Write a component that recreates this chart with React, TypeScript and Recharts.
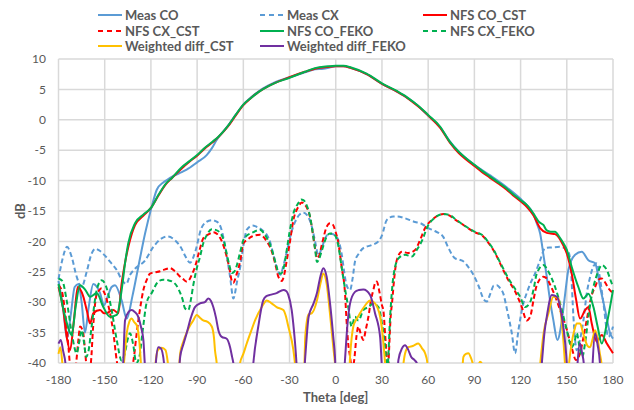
import { CartesianGrid, Line, LineChart, XAxis, YAxis } from "recharts";

type Pt = [number, number];

const thetaTicks = [-180, -150, -120, -90, -60, -30, 0, 30, 60, 90, 120, 150, 180];
const dbTicks = [-40, -35, -30, -25, -20, -15, -10, -5, 0, 5, 10];

// theta [deg], dB
const measCo: Pt[] = [
  [-180, -26.5], [-177, -31], [-174.5, -36], [-172, -32], [-169.5, -27.5], [-167, -27], [-165, -30],
  [-162.8, -35], [-160.5, -31], [-157.4, -27], [-155, -27.5], [-153, -28.5], [-150.5, -30.5], [-148, -29],
  [-145.5, -27.5], [-143.3, -27.2], [-139, -29.7], [-135.7, -32.7], [-132, -29], [-128.2, -24.2],
  [-123.8, -18.7], [-119.5, -14.3], [-116.2, -11.5], [-112, -10.3], [-109.7, -9.9], [-105, -9.2],
  [-100, -8.6], [-96.8, -8.2], [-90, -7.0], [-83.8, -5.8], [-80.5, -4.7], [-77.3, -3.3], [-70, -1],
  [-65, 0.8], [-60, 2.5], [-55, 3.7], [-50, 4.7], [-44, 5.6], [-40, 6.1], [-30, 7.0], [-20, 7.8],
  [-13.5, 8.3], [-8, 8.4], [-4, 8.6], [0, 8.8], [5, 8.8], [10, 8.5], [20, 7.5], [30, 5.9], [40, 4.6],
  [50, 3.0], [60, 0.7], [67.7, -1.2], [74, -3.5], [80, -5.3], [90, -7.4], [100, -9.1], [111, -11.1],
  [120, -13.0], [124, -14], [128, -15.3], [130.5, -17], [132.7, -18.7], [135, -22.5], [137, -25.8],
  [139, -29.5], [141.3, -33], [143.9, -36.2], [146.8, -33], [149, -28.5], [151, -24.7], [155.4, -22.2],
  [159.7, -21.7], [164, -23.1], [168.4, -23.6], [171.6, -27.5], [174.9, -31.3], [178.1, -35.1], [180, -36],
];

const measCx: Pt[] = [
  [-180, -26.2], [-177, -22.5], [-174.5, -20.9], [-171.5, -22.5], [-168.2, -25.8], [-165, -27.5],
  [-161.7, -25], [-158.5, -22], [-156, -21.2], [-153.5, -21.5], [-150, -22.3], [-146, -23.5],
  [-142.2, -24.7], [-138.5, -26.5], [-136, -27], [-133.5, -25.5], [-130.3, -24.5], [-124, -23.2],
  [-118.4, -20.9], [-113, -19.5], [-109, -19.2], [-104.4, -19.8], [-100.5, -21], [-97.9, -22.3],
  [-94.6, -23.5], [-91, -21.5], [-87.5, -18], [-84, -16.8], [-80.5, -16.5], [-77, -16.8], [-74.5, -17.8],
  [-71, -22], [-68.5, -26], [-66.5, -29.4], [-64, -26.5], [-62, -24.2], [-59.5, -20], [-57.8, -18.1],
  [-54, -17.4], [-51.3, -17.6], [-47.5, -18.2], [-44.8, -18.9], [-42.5, -20.2], [-40.5, -22.2],
  [-38, -24.5], [-36, -25.5], [-34, -24], [-31.8, -21.7], [-28.8, -18.5], [-26.4, -16.8], [-23.5, -15.6],
  [-21, -15.3], [-18.5, -15.7], [-15.5, -17.6], [-13.4, -20], [-11.3, -22.3], [-9, -21], [-6.5, -19.3],
  [-4.8, -18.8], [-2.5, -18.8], [0, -19.1], [2, -20], [3.8, -22], [5.5, -25], [7, -27.2], [9.3, -28],
  [11, -26], [12.5, -23.3], [15, -22], [17.9, -21.1], [23.4, -20.6], [27.7, -20], [30, -19], [33.1, -16.5],
  [37.4, -15.9], [40, -15.9], [45, -16.2], [51.5, -16.8], [55, -17], [60.1, -17.8], [63.5, -18.2],
  [66, -18.5], [69.9, -19.3], [73, -21], [77.5, -22.8], [80, -23], [83, -23.3], [86, -24.2], [89.4, -25.5],
  [93, -27.5], [96, -29.5], [98, -29.9], [100.5, -28.5], [102.5, -27.3], [104.6, -27.2], [107, -27.8],
  [108.8, -28.6], [111, -31], [114.3, -35.1], [116.4, -38.4], [118.6, -34.6], [121.8, -30.2], [124, -28.5],
  [126.2, -27], [129, -25.5], [132.7, -23.1], [135.9, -21.1], [140, -21], [145.6, -20.9], [148.5, -21.1],
  [151.5, -22], [152.8, -25], [154.3, -32.4], [156.5, -37.9], [158.7, -36], [160.8, -33], [163, -28.5],
  [165.2, -25.8], [167.5, -24], [169.5, -23.6], [171.5, -26], [173.8, -30.2], [177, -35.7], [180, -34],
];

const nfsCoCst: Pt[] = [
  [-180, -27.5], [-177, -31], [-174.5, -36], [-172.5, -37.9], [-170, -33], [-167.5, -27.5], [-164, -29],
  [-161.5, -31.5], [-159.5, -33.5], [-157.4, -31.8], [-153, -31.3], [-150.5, -31.8], [-148.7, -31.8],
  [-146.5, -31.5], [-144.4, -31.3], [-141.2, -31.8], [-139, -26.9], [-136.8, -23.5], [-134.5, -20.7],
  [-130.3, -17.3], [-125, -15.8], [-120, -14.5], [-115, -12.4], [-110, -10.5], [-106.5, -9.6], [-100, -8.0],
  [-95, -6.9], [-90, -5.9], [-85, -4.7], [-80, -3.7], [-76, -2.8], [-70, -1.1], [-65, 0.7], [-60, 2.4],
  [-55, 3.6], [-50, 4.6], [-44, 5.5], [-40, 6.0], [-30, 7.0], [-20, 7.9], [-13.5, 8.4], [-5, 8.7], [0, 8.8],
  [5, 8.8], [10, 8.5], [20, 7.5], [30, 5.9], [40, 4.6], [44, 4.0], [50, 2.9], [55, 1.9], [60, 0.7],
  [67.7, -1.3], [74, -3.7], [80, -5.5], [85, -6.6], [90, -7.6], [95, -8.6], [100, -9.5], [105, -10.4],
  [111, -11.5], [115, -12.4], [120, -13.4], [124, -14.3], [128.3, -15.7], [132.7, -17.8], [137, -18.6],
  [139.5, -18.7], [142.4, -18.8], [147.8, -20.7], [150, -22], [153.2, -25.3], [156, -29.5], [158.6, -32.7],
  [161.9, -31.3], [164, -30.8], [166.2, -33.5], [169.5, -36.5], [172.7, -35.4], [176, -36.8], [180, -38.4],
];

const nfsCxCst: Pt[] = [
  [-180, -27.2], [-178, -28], [-176, -31], [-174, -36], [-172, -42], [-170.5, -45], [-168.5, -40],
  [-167, -36], [-166, -34], [-164, -35], [-162.8, -37.9], [-161, -42], [-159, -40], [-157.5, -34],
  [-155.5, -29], [-153.5, -28], [-152, -27.7], [-150.5, -28.3], [-147.7, -30.5], [-144.4, -35],
  [-142.2, -39.6], [-140.5, -42], [-138, -44], [-134, -43], [-131, -39], [-129.2, -35], [-127, -31],
  [-124.9, -28], [-122.5, -26.2], [-120.6, -25.3], [-117.3, -25.1], [-114, -24.9], [-110.8, -24.6],
  [-107.6, -24.4], [-104.4, -24.9], [-101, -25.8], [-99, -26.2], [-97, -26.6], [-95.7, -26.5],
  [-93.5, -25.5], [-91.4, -24.2], [-88.5, -21.5], [-86, -19.5], [-83.8, -19], [-81.6, -18.7],
  [-79.5, -18.5], [-77, -18.8], [-75.1, -19.4], [-72.5, -21], [-70.8, -22.5], [-69, -24.5], [-67.5, -26.5],
  [-66.5, -26.8], [-64.5, -25.5], [-62.1, -23.3], [-60, -20.3], [-57.8, -19.8], [-54.5, -19.2],
  [-49.2, -18.9], [-46.8, -19.3], [-44.8, -20], [-42.5, -21], [-40.5, -22.5], [-38.8, -24.2],
  [-37.3, -25.8], [-35, -26.5], [-33.5, -25.5], [-31.8, -23.1], [-30, -20.5], [-27.5, -16.5],
  [-24.3, -14.3], [-22, -13.6], [-20.3, -13.9], [-18.5, -14.6], [-16.7, -16], [-15, -18.5], [-13.4, -21.2],
  [-12, -22.8], [-11, -22.5], [-9, -20.5], [-5.9, -17.6], [-3.7, -17], [-2, -17.2], [0, -18.5], [1.5, -20],
  [3.8, -24.2], [6, -28.5], [7, -33], [8.1, -36.8], [9.3, -39], [10.5, -41], [12, -39.5], [13.5, -35.5],
  [14.7, -34], [16, -35], [17.9, -36.2], [19.5, -34.5], [21.2, -32.4], [23, -29.5], [24.4, -28],
  [25.5, -26.9], [26.6, -26.6], [28.5, -28.5], [30, -30.5], [30.9, -31.3], [32.1, -35.5], [33.1, -39],
  [33.8, -42], [34.6, -38], [35.5, -33], [36.7, -29.7], [38, -26], [39.6, -23.1], [42.9, -21.7],
  [47.1, -21.9], [51.5, -21.4], [54.7, -19.8], [58, -17.8], [62.3, -16.5], [66, -15.8], [69.9, -15.5],
  [74.2, -15.8], [78, -16.5], [82.9, -17.3], [89.4, -18.4], [95.8, -19.2], [99, -20.2], [102.3, -21.4],
  [105, -22.7], [107.8, -24.2], [112.1, -26.4], [116.4, -28.2], [120.8, -30.8], [124, -33], [126.2, -32.4],
  [128.5, -29.5], [130.5, -27.2], [134.8, -25.8], [137, -26.1], [139, -27], [141.3, -28.3], [145.7, -31.3],
  [150, -34.5], [153.2, -37.5], [156, -39.5], [158.5, -38.5], [161, -35.5], [164, -31.5], [166, -29],
  [168.4, -27.5], [170.5, -26.3], [172.7, -26.1], [175, -26.8], [177, -27.7], [180, -28.5],
];

const nfsCoFeko: Pt[] = [
  [-180, -27], [-177, -31], [-174.5, -33.5], [-171.4, -35.4], [-169, -31], [-166, -27.2], [-162.5, -28],
  [-159.5, -29.1], [-155.2, -28.5], [-150.9, -30.8], [-146.6, -32.4], [-142.2, -32.1], [-139, -28],
  [-136.8, -23.6], [-134.7, -20.3], [-130.3, -17], [-125, -15.6], [-120, -14.5], [-115, -12.3],
  [-110, -10.4], [-106.5, -9.6], [-100, -7.8], [-95, -6.8], [-90, -5.8], [-85, -4.6], [-80, -3.6],
  [-76, -2.75], [-70, -1], [-65, 0.8], [-60, 2.5], [-55, 3.6], [-50, 4.6], [-44, 5.5], [-40, 6.0],
  [-30, 6.9], [-20, 7.9], [-13.5, 8.5], [-5, 8.8], [0, 8.9], [5, 8.9], [10, 8.6], [20, 7.6], [30, 6.0],
  [40, 4.7], [44, 4.1], [50, 3.0], [55, 2.0], [60, 0.8], [67.7, -1.1], [74, -3.6], [80, -5.3], [85, -6.4],
  [90, -7.4], [95, -8.4], [100, -9.3], [105, -10.2], [111, -11.3], [115, -12.2], [120, -13.2], [124, -14],
  [128.3, -15.4], [132, -16.8], [134.8, -17.3], [137, -18.2], [139.5, -18.4], [142.4, -18.4], [145, -19.2],
  [147.8, -20.3], [150, -21.4], [153.2, -24.2], [157.5, -27.5], [160.8, -29.4], [164, -28.6],
  [167.3, -30.8], [170, -34], [172.7, -36.8], [176, -33.5], [180, -28],
];

const nfsCxFeko: Pt[] = [
  [-180, -26.1], [-177.5, -26.5], [-174.7, -29.7], [-171.4, -35.1], [-168.2, -38.4], [-166.5, -36.5],
  [-165, -34.6], [-163.5, -36.5], [-162, -39], [-160.5, -38], [-158.5, -34], [-155.2, -28], [-152, -26.4],
  [-148.7, -27.7], [-145.5, -31.3], [-142.2, -36.2], [-139, -39.6], [-137, -38.5], [-135, -36],
  [-133.6, -35.1], [-131.5, -37], [-129.5, -40], [-127.5, -39], [-125.5, -35], [-122.7, -30],
  [-119.5, -28.5], [-115.2, -26.6], [-112, -26.3], [-108.7, -26.4], [-105, -26.8], [-102.2, -27.8],
  [-99.5, -29.5], [-97.9, -31], [-95.7, -31.3], [-94, -29.5], [-92.5, -27.2], [-90.3, -24.5], [-88.1, -22.5],
  [-86, -20.3], [-83.8, -19], [-80.5, -18], [-78, -18.1], [-75.1, -18.6], [-72.5, -20], [-70.8, -22],
  [-69, -24], [-67.5, -25.2], [-66, -25], [-64.3, -24], [-62, -21.7], [-60, -19.8], [-57.5, -19],
  [-54.5, -18.6], [-49.2, -18.1], [-46.8, -18.6], [-44.8, -19.4], [-42.5, -20.6], [-40.5, -22.2],
  [-38.8, -23.8], [-37.3, -25], [-35.5, -25.3], [-33.5, -24], [-31.8, -21.4], [-30, -18.5], [-27.5, -15.4],
  [-24.3, -13.7], [-22.5, -13.1], [-21, -13.2], [-19, -14], [-16.7, -15.9], [-15, -18.5], [-13.4, -21.3],
  [-12.2, -23.4], [-11, -23], [-9, -21.5], [-5.9, -19.2], [-3.7, -18.7], [-2, -18.7], [-0.5, -19],
  [1.5, -20.5], [3.8, -24.2], [5.5, -27], [8.1, -30.8], [10.3, -34], [12.5, -32.4], [14.7, -33],
  [17.9, -31.3], [21.2, -30.8], [24.4, -30.2], [27.7, -30.8], [30, -33.5], [32.1, -37.4], [33.5, -41],
  [35.3, -32.4], [37.4, -25.8], [40.7, -22.8], [45, -22.2], [49.4, -22.5], [52.6, -21.4], [55.8, -20],
  [60.1, -17.3], [63, -16.4], [66, -15.8], [69.9, -15.5], [74.2, -15.7], [78, -16.4], [82.9, -17.3],
  [89.4, -18.3], [95.8, -19.1], [99, -20.1], [102.3, -21.3], [105, -22.6], [107.8, -24], [112.1, -26.1],
  [116.4, -27.8], [119.7, -29.1], [122.9, -30.8], [126.2, -30], [128.5, -27.8], [130.5, -25.3],
  [134.8, -23.9], [138.1, -25], [142.4, -27.5], [146.8, -31.3], [150, -34.6], [153.2, -37.4], [155, -36.5],
  [156.5, -35.1], [158, -37], [160, -39], [162, -36.5], [164.5, -31.5], [167.3, -27.5], [170, -25.2],
  [172.7, -23.9], [176, -24.7], [179.2, -26.9], [180, -27.3],
];

const diffCst: Pt[] = [
  [-180, -38.5], [-178.8, -37.4], [-177.5, -40], [-176, -45], [-140, -45], [-137.5, -40], [-135.7, -35.1],
  [-134, -33.2], [-132.5, -32.7], [-130.8, -33.3], [-129.2, -33.8], [-127.5, -36.5], [-126.5, -40],
  [-125, -45], [-118.5, -45], [-117, -40], [-115.5, -37.9], [-113, -37.5], [-110.5, -37.9], [-109, -40],
  [-107, -45], [-103, -45], [-101, -38.4], [-99, -36.5], [-96.8, -35], [-94.5, -33.8], [-92.5, -33],
  [-90.3, -32.1], [-88, -32.6], [-86, -33], [-83.5, -33.2], [-80.5, -34], [-79, -36], [-78.4, -37.9],
  [-77.3, -40], [-76, -45], [-64, -45], [-62.1, -40], [-60, -38.5], [-57.8, -36.8], [-55, -34.8],
  [-52.4, -33], [-48, -30.8], [-44.8, -29.7], [-41.6, -30.2], [-38.4, -30.8], [-34, -31.3], [-32.5, -32.2],
  [-30.8, -34], [-27.5, -37.9], [-26.5, -40], [-25, -45], [-21.5, -45], [-20.3, -40], [-19.8, -35.7],
  [-17.6, -32], [-15.5, -31.8], [-12.2, -29.7], [-10, -27], [-8.1, -25.3], [-5.9, -27], [-3.7, -32],
  [-1.6, -37.4], [-0.5, -40], [1, -45], [8, -45], [9.3, -39], [11.4, -34], [13.5, -32.8], [15.8, -31.8],
  [20.1, -30.2], [22.3, -29.7], [25.5, -30.2], [28.8, -32.4], [31, -36.8], [32, -40], [33.5, -45],
  [42.5, -45], [44, -40], [45.5, -38], [47.1, -37.4], [50, -37.2], [53.6, -36.8], [56, -37.6], [58, -38.4],
  [59.5, -40], [61, -45], [81, -45], [82.9, -39], [84.5, -38.5], [86.1, -38.4], [88, -39.3], [89.5, -40.5],
  [91.5, -41], [93.7, -39.8], [95.5, -40.5], [97, -45], [131, -45], [132.8, -40], [135, -35],
  [138.1, -31.8], [141.3, -29.1], [144.6, -29.4], [146.8, -33.5], [148, -37], [148.8, -40], [150, -45],
  [151.5, -40], [153, -37], [155, -34.5], [156.5, -33.5], [158.6, -33.5], [160.5, -35], [161.9, -36.2],
  [163.5, -37.2], [165.1, -37.4], [166.8, -36], [168.4, -34.6], [170, -36], [171.5, -38.5], [172.5, -40],
  [174, -45], [180, -45],
];

const diffFeko: Pt[] = [
  [-180, -36.8], [-178.5, -36.2], [-177, -38], [-175.5, -40], [-174, -45], [-140, -45], [-138, -40],
  [-136.8, -33], [-134.5, -31.6], [-132.5, -31.3], [-130.5, -31.6], [-128.2, -32.4], [-126.5, -34],
  [-124.9, -36.2], [-124, -40], [-122.5, -45], [-118, -45], [-116.8, -40], [-115.2, -37.4], [-113.5, -37.6],
  [-111.5, -40], [-110, -45], [-103, -45], [-101, -39], [-99, -37], [-96.8, -35.1], [-94, -32.5],
  [-91.4, -30.8], [-88.1, -30.2], [-85, -30], [-82.7, -29.4], [-81, -29.8], [-79.5, -30.8], [-77.8, -32.5],
  [-76.2, -34.6], [-74, -35.7], [-70.8, -36], [-68.6, -37.4], [-67.3, -39], [-66.5, -40], [-65, -45],
  [-55, -45], [-53.5, -40], [-50.3, -34], [-47.1, -29.7], [-45, -29], [-42.7, -28.8], [-38.4, -28.5],
  [-34, -28], [-32, -28.2], [-30.8, -28.8], [-28.6, -31.3], [-27.2, -34.5], [-26.4, -36.8], [-25.5, -40],
  [-24.5, -45], [-21.5, -45], [-19.8, -39], [-17.6, -32.4], [-14.4, -30.2], [-12.2, -28.5], [-10, -25.8],
  [-8.1, -24.4], [-5.9, -25.8], [-3.7, -30.2], [-1.6, -35.7], [-0.5, -39], [0.5, -45], [4.5, -45],
  [6, -39.5], [7.5, -34], [9.3, -30.2], [12.5, -28.3], [15, -28], [17.9, -27.9], [22.3, -28.8],
  [25.5, -31.8], [28.8, -35.7], [29.8, -40], [31, -45], [39, -45], [40.7, -39.5], [43, -37.6], [45, -37.1],
  [47, -37.8], [49, -39], [51, -39.5], [52.6, -40], [54, -45], [132, -45], [133.8, -40], [135.5, -35],
  [137, -32.4], [140.3, -28.8], [143.5, -29.1], [146.8, -32.4], [149, -36.8], [150, -40], [151, -45],
  [156, -45], [157, -40], [158.6, -36.8], [160, -38.5], [161, -40], [162, -45], [166, -45], [166.8, -40],
  [168.4, -35.1], [170, -37], [171.5, -40], [172.5, -45], [180, -45],
];

const series = [
  { name: "Meas CO", pts: measCo, color: "#5b9bd5", dashed: false },
  { name: "Meas CX", pts: measCx, color: "#5b9bd5", dashed: true },
  { name: "NFS CO_CST", pts: nfsCoCst, color: "#ff0000", dashed: false },
  { name: "NFS CX_CST", pts: nfsCxCst, color: "#ff0000", dashed: true },
  { name: "NFS CO_FEKO", pts: nfsCoFeko, color: "#00b050", dashed: false },
  { name: "NFS CX_FEKO", pts: nfsCxFeko, color: "#00b050", dashed: true },
  { name: "Weighted diff_CST", pts: diffCst, color: "#ffc000", dashed: false },
  { name: "Weighted diff_FEKO", pts: diffFeko, color: "#7030a0", dashed: false },
];

const FONT = "Lato, 'Open Sans', sans-serif";
const legendCols = [98, 260, 423];
const legendRows = [15, 30.5, 46];

function ChartLegend() {
  return (
    <>
      {series.map((s, i) => {
        const x = legendCols[i % 3];
        const y = legendRows[Math.floor(i / 3)];
        return (
          <div
            key={s.name}
            style={{
              position: "absolute",
              left: x,
              top: y - 9,
              height: 18,
              display: "flex",
              alignItems: "center",
              gap: 3,
              fontFamily: FONT,
              fontWeight: 700,
              fontSize: 13,
              color: "#595959",
              whiteSpace: "nowrap",
            }}
          >
            <svg width={24} height={4}>
              <line
                x1={0}
                y1={2}
                x2={24}
                y2={2}
                stroke={s.color}
                strokeWidth={2}
                strokeDasharray={s.dashed ? "5 4" : undefined}
              />
            </svg>
            <span>{s.name}</span>
          </div>
        );
      })}
    </>
  );
}

export default function App() {
  return (
    <div style={{ position: "relative", width: 634, height: 410, background: "#fff" }}>
      <style>{`body{margin:0}`}</style>
      <LineChart width={634} height={410} margin={{ top: 59, right: 21, bottom: 0, left: 0 }}>
        <CartesianGrid stroke="#d9d9d9" strokeWidth={1.5} />
        <XAxis
          type="number"
          dataKey="t"
          domain={[-180, 180]}
          ticks={thetaTicks}
          height={47}
          axisLine={false}
          tickLine={false}
          tickSize={0}
          tickMargin={12}
          tick={{ fill: "#595959", fontSize: 12, fontFamily: FONT }}
          allowDuplicatedCategory={false}
        />
        <YAxis
          type="number"
          domain={[-40, 10]}
          ticks={dbTicks}
          allowDataOverflow
          width={58.5}
          axisLine={false}
          tickLine={false}
          tickSize={0}
          tickMargin={12.5}
          tick={{ fill: "#595959", fontSize: 12, fontFamily: FONT }}
        />
        {series.map((s) => (
          <Line
            key={s.name}
            name={s.name}
            data={s.pts.map(([t, v]) => ({ t, v }))}
            dataKey="v"
            type="monotone"
            stroke={s.color}
            strokeWidth={2}
            strokeDasharray={s.dashed ? "5 3" : undefined}
            dot={false}
            activeDot={false}
            isAnimationActive={false}
          />
        ))}
      </LineChart>
      <ChartLegend />
      <div
        style={{
          position: "absolute",
          left: 0,
          width: 634 - 21 + 58.5,
          top: 389,
          textAlign: "center",
          fontFamily: FONT,
          fontWeight: 700,
          fontSize: 13,
          color: "#595959",
        }}
      >
        Theta [deg]
      </div>
      <div
        style={{
          position: "absolute",
          left: 20,
          top: 211,
          transform: "translate(-50%, -50%) rotate(-90deg)",
          fontFamily: FONT,
          fontWeight: 700,
          fontSize: 13,
          color: "#595959",
        }}
      >
        dB
      </div>
    </div>
  );
}
